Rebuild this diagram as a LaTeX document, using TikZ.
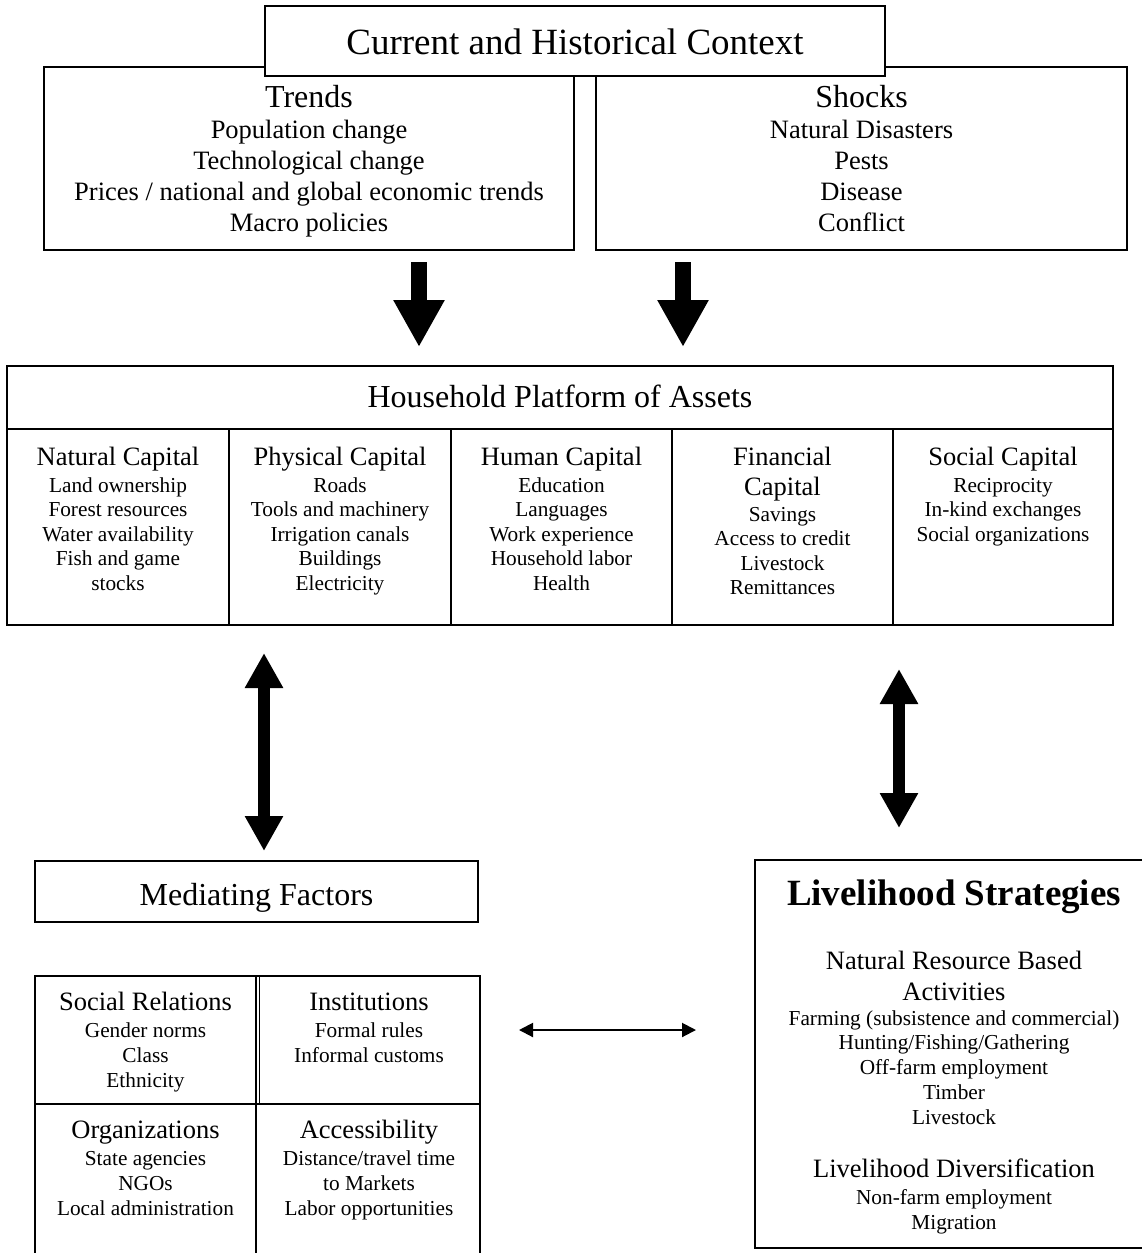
\documentclass[tikz,border=0pt]{standalone}
\usepackage{fontspec}
\setmainfont{Liberation Serif}
\usetikzlibrary{arrows.meta}
\tikzset{
  box/.style={draw, line width=1.4pt, fill=white, inner sep=0pt},
  rule/.style={draw, line width=1.4pt},
  big/.style={font=\fontsize{37}{42}\selectfont, anchor=base},
  bigb/.style={font=\fontsize{37}{42}\selectfont\bfseries, anchor=base},
  head/.style={font=\fontsize{32}{37}\selectfont, anchor=base},
  sub/.style={font=\fontsize{26.5}{30}\selectfont, anchor=base},
  item/.style={font=\fontsize{21.3}{24.5}\selectfont, anchor=base},
  fat/.style={line width=16pt, -{Triangle[width=48pt,length=47pt]}},
  twin/.style={line width=12pt, {Triangle[width=36pt,length=35pt]}-{Triangle[width=36pt,length=35pt]}},
  slim/.style={line width=2pt, {Triangle[width=14pt,length=14pt]}-{Triangle[width=14pt,length=14pt]}},
}
\begin{document}
\begin{tikzpicture}[x=1pt,y=-1pt]
  \useasboundingbox (0,0) rectangle (1141,1253);
  % context
  \node[box, minimum width=530pt, minimum height=183pt] (trends) at (309,158.5) {};
  \node[box, minimum width=531pt, minimum height=183pt] (shocks) at (861.5,158.5) {};
  \node[box, minimum width=620pt, minimum height=70pt] (ctx) at (575,41) {};
  \node[big] (ctxt) at (575,54) {Current and Historical Context};
  \node[head] (trh) at (309,107) {Trends};
  \foreach \t [count=\k from 0] in {Population change,Technological change,Prices / national and global economic trends,Macro policies}
    \node[sub] (tr\k) at (309,138.5+31*\k) {\t};
  \node[head] (shh) at (861.5,107) {Shocks};
  \foreach \t [count=\k from 0] in {Natural Disasters,Pests,Disease,Conflict}
    \node[sub] (sh\k) at (861.5,138.5+31*\k) {\t};

  % assets
  \node[box, minimum width=1106pt, minimum height=259pt] (hh) at (560,495.5) {};
  \draw[rule] (7,429) -- (1113,429);
  \foreach \x in {229,451,672,893}
    \draw[rule] (\x,429) -- (\x,625);
  \node[head] (hht) at (560,407) {Household Platform of Assets};
  \foreach \x/\hds/\ys/\its in {
      118/{Natural Capital}/492/{Land ownership,Forest resources,Water availability,Fish and game,stocks},
      340/{Physical Capital}/492/{Roads,Tools and machinery,Irrigation canals,Buildings,Electricity},
      561.5/{Human Capital}/492/{Education,Languages,Work experience,Household labor,Health},
      782.5/{Financial,Capital}/521/{Savings,Access to credit,Livestock,Remittances},
      1003/{Social Capital}/492/{Reciprocity,In-kind exchanges,Social organizations}}{
    \foreach \h [count=\k from 0] in \hds
      \node[sub] (h\x-\k) at (\x,465.5+29.5*\k) {\h};
    \foreach \t [count=\k from 0] in \its
      \node[item] (i\x-\k) at (\x,\ys+24.5*\k) {\t};
  }

  % arrows
  \coordinate (a1) at (419,262);
  \coordinate (b1) at (419,347);
  \coordinate (a2) at (683,262);
  \coordinate (b2) at (683,347);
  \draw[fat] (a1) -- (b1);
  \draw[fat] (a2) -- (b2);
  \coordinate (m1) at (264,653);
  \coordinate (m2) at (264,851);
  \coordinate (l1) at (899,669);
  \coordinate (l2) at (899,828);
  \draw[twin] (m1) -- (m2);
  \draw[twin] (l1) -- (l2);

  % mediating factors
  \node[box, minimum width=443pt, minimum height=61pt] (med) at (256.5,891.5) {};
  \node[head] (medt) at (256.5,905) {Mediating Factors};
  \draw[rule] (35,1262) -- (35,976) -- (480,976) -- (480,1262);
  \draw[rule] (35,1104) -- (480,1104);
  \draw[rule] (256,976) -- (256,1262);
  \draw[rule] (259.5,976) -- (259.5,1104);
  \foreach \x/\y/\hd/\its in {
      145.5/1010.5/{Social Relations}/{Gender norms,Class,Ethnicity},
      369/1010.5/{Institutions}/{Formal rules,Informal customs},
      145.5/1138.5/{Organizations}/{State agencies,NGOs,Local administration},
      369/1138.5/{Accessibility}/{Distance/travel time,to Markets,Labor opportunities}}{
    \node[sub] (g\x-\y) at (\x,\y) {\hd};
    \foreach \t [count=\k from 0] in \its
      \node[item] (g\x-\y-\k) at (\x,\y+26.5+25*\k) {\t};
  }
  \coordinate (s1) at (519,1030);
  \coordinate (s2) at (696,1030);
  \draw[slim] (s1) -- (s2);

  % livelihood strategies
  \node[box, minimum width=398pt, minimum height=388pt] (liv) at (954,1054) {};
  \node[bigb] (livt) at (954,905) {Livelihood Strategies};
  \node[sub] (nr0) at (954,969) {Natural Resource Based};
  \node[sub] (nr1) at (954,1000.5) {Activities};
  \foreach \t [count=\k from 0] in {Farming (subsistence and commercial),Hunting/Fishing/Gathering,Off-farm employment,Timber,Livestock}
    \node[item] (nri\k) at (954,1025+24.75*\k) {\t};
  \node[sub] (ld) at (954,1177.5) {Livelihood Diversification};
  \node[item] (ld0) at (954,1204) {Non-farm employment};
  \node[item] (ld1) at (954,1229) {Migration};
\end{tikzpicture}
\end{document}
